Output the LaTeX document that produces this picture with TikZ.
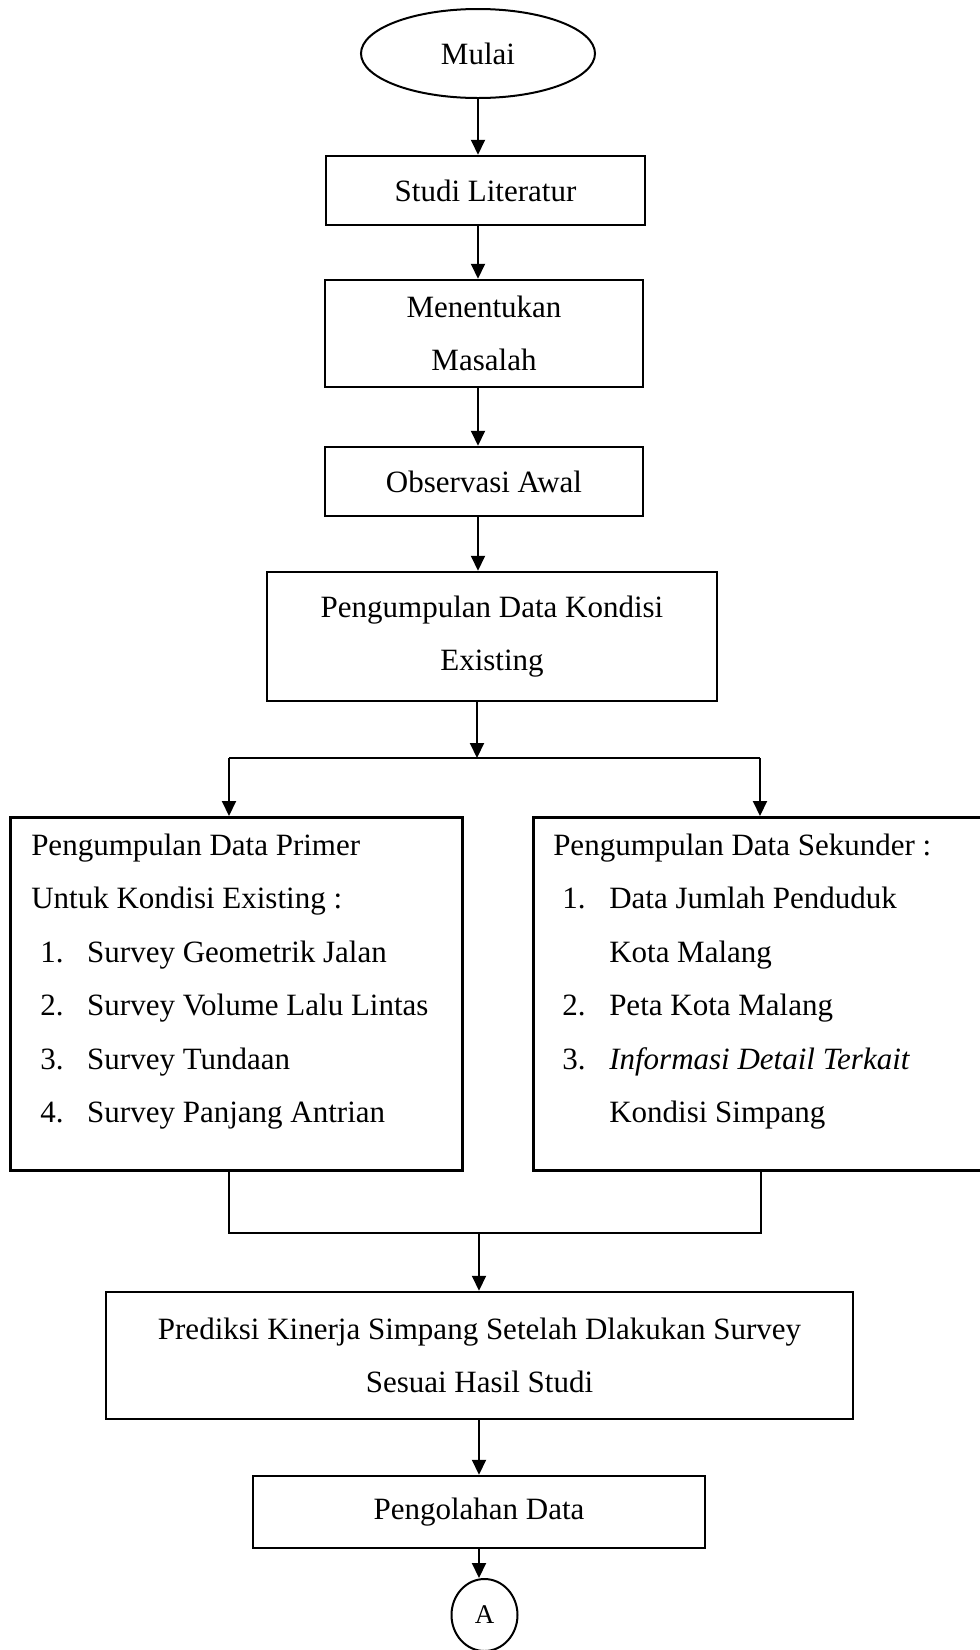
\documentclass[tikz,border=0pt]{standalone}
\usepackage{fontspec}
\setmainfont{Liberation Serif}
\usetikzlibrary{shapes.geometric,arrows.meta}

\newcommand{\butir}[1]{\hspace*{9pt}\makebox[47pt][l]{#1}}
\newcommand{\sisip}{\hspace*{56pt}}

\begin{document}
\begin{tikzpicture}[x=1pt,y=-1pt,
  box/.style={draw, line width=2.5pt, inner sep=0pt, align=center, font=\fontsize{31}{53.5}\selectfont},
  daftar/.style={box, anchor=north west, align=left, inner xsep=21pt, inner ysep=0pt, text height=38pt, text depth=315pt,
    execute at begin node={\spaceskip=0pt\xspaceskip=0pt\relax}},
  arr/.style={line width=2pt, -{Triangle[length=15pt,width=14pt]}},
  garis/.style={line width=2pt}]

\useasboundingbox (0,0) rectangle (980,1650);

% Boxes
\node[box, ellipse, line width=2pt, minimum width=234, minimum height=89] (mulai) at (478,53.5) {Mulai};
\node[box, minimum width=319, minimum height=69] (studi) at (485.5,190.5) {Studi Literatur};
\node[box, minimum width=318, minimum height=107] (masalah) at (484,333.5) {Menentukan\\Masalah};
\node[box, minimum width=318, minimum height=69] (observasi) at (484,481.5) {Observasi Awal};
\node[box, minimum width=450, minimum height=129] (kondisi) at (492,636.5) {Pengumpulan Data Kondisi\\Existing};

% Data primer dan sekunder
\node[daftar, text width=410pt] (primer) at (9,816) {Pengumpulan Data Primer\\
  Untuk Kondisi Existing :\\
  \butir{1.}Survey Geometrik Jalan\\
  \butir{2.}Survey Volume Lalu Lintas\\
  \butir{3.}Survey Tundaan\\
  \butir{4.}Survey Panjang Antrian};
\node[daftar, inner xsep=20pt, text width=430pt] (sekunder) at (532,816) {Pengumpulan Data Sekunder :\\
  \butir{1.}Data Jumlah Penduduk\\
  \sisip Kota Malang\\
  \butir{2.}Peta Kota Malang\\
  \butir{3.}\textit{Informasi Detail Terkait}\\
  \sisip Kondisi Simpang};

\node[box, minimum width=747, minimum height=127] (prediksi) at (479.5,1355.5) {Prediksi Kinerja Simpang Setelah Dlakukan Survey\\Sesuai Hasil Studi};
\node[box, minimum width=452, minimum height=72] (olah) at (479,1512) {Pengolahan Data};
\node[box, ellipse, line width=2pt, minimum width=66, minimum height=72, font=\fontsize{27}{30}\selectfont] (konektor) at (484.5,1615) {A};

% Titik cabang
\coordinate (pisah) at (477,758);
\coordinate (pisahKiri) at (229,758);
\coordinate (pisahKanan) at (760,758);
\coordinate (gabung) at (479,1233);
\coordinate (gabungKiri) at (229,1233);
\coordinate (gabungKanan) at (761,1233);

% Arrows
\draw[arr] (mulai.south) -- (studi.north -| mulai);
\draw[arr] (studi.south -| mulai) -- (masalah.north -| mulai);
\draw[arr] (masalah.south -| mulai) -- (observasi.north -| mulai);
\draw[arr] (observasi.south -| mulai) -- (kondisi.north -| mulai);
\draw[arr] (kondisi.south -| pisah) -- (pisah);
\draw[garis] (pisahKiri) -- (pisahKanan);
\draw[arr] (pisahKiri) -- (pisahKiri |- primer.north);
\draw[arr] (pisahKanan) -- (pisahKanan |- sekunder.north);
\draw[garis] (primer.south -| gabungKiri) -- (gabungKiri) -- (gabungKanan) -- (sekunder.south -| gabungKanan);
\draw[arr] (gabung) -- (prediksi.north -| gabung);
\draw[arr] (prediksi.south -| gabung) -- (olah.north -| gabung);
\draw[arr] (olah.south -| gabung) -- (konektor.north -| gabung);

\end{tikzpicture}
\end{document}
